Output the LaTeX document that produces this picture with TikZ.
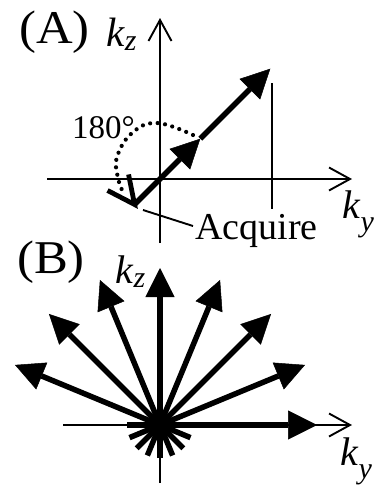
\documentclass[tikz,border=0pt]{standalone}
\usepackage{fontspec}
\setmainfont{Liberation Serif}
\usetikzlibrary{arrows.meta,calc}
\tikzset{
  thinax/.style={line width=1.9pt,-{Straight Barb[length=21pt,width=23pt,line width=1.9pt]}},
  thinline/.style={line width=1.9pt},
  thickarr/.style={line width=5.5pt,-{Triangle[length=29pt,width=29pt,line width=0.5pt]}},
  thickline/.style={line width=4.8pt},
  dotarc/.style={line width=4.2pt,line cap=round,dash pattern=on 0pt off 7.5pt},
  lbl/.style={inner sep=0pt,anchor=base west},
}
\newcommand{\kz}{\textit{k}\raisebox{-4pt}{\fontsize{30}{30}\selectfont\textit{z}}}
\newcommand{\ky}{\textit{k}\raisebox{-13pt}{\fontsize{30}{30}\selectfont\textit{y}}}
\begin{document}
\begin{tikzpicture}[x=1pt,y=-1pt]
\useasboundingbox (0,0) rectangle (377,485);
% ---------- panel A ----------
\coordinate (OA) at (160,179);
\coordinate (Ax0) at (47,179);
\coordinate (Ax1) at (352,179);
\coordinate (Ay0) at (160,243);
\coordinate (Ay1) at (160,18);
\coordinate (V0) at (272,83);
\coordinate (V1) at (272,209);
\draw[thinax] (Ax0) -- (Ax1);
\draw[thinax] (Ay0) -- (Ay1);
\draw[thinline] (V0) -- (V1);
\coordinate (S) at ($(OA)+(135:36)$);
\coordinate (M) at ($(OA)+(-45:57)$);
\coordinate (E) at ($(OA)+(-45:156)$);
\draw[thickarr] (S) -- (M);
\draw[thickarr] (M) -- (E);
% 180 degree dotted turn with its barb
\draw[dotarc] plot[smooth,tension=0.7] coordinates {(193,135) (157,123) (132,133) (117,157) (118,178) (123,192)};
\coordinate (b1) at ($(S)+(-27,-14)$);
\coordinate (b2) at ($(S)+(-6,-30)$);
\draw[thickline,line join=miter] (b1) -- (S) -- (b2);
% labels
\node[lbl,font=\fontsize{47}{47}\selectfont] (labA) at (19,43) {\scalebox{1.08}[1]{(A)}};
\node[lbl,font=\fontsize{41}{41}\selectfont] (kzA) at (106,46) {\kz};
\node[lbl,font=\fontsize{40}{40}\selectfont] (kyA) at (342,218) {\ky};
\node[lbl,font=\fontsize{33}{33}\selectfont] (deg) at (72,138) {180°};
\node[lbl,font=\fontsize{38}{38}\selectfont] (acq) at (195,239) {Acquire};
\coordinate (acq0) at (143,210);
\coordinate (acq1) at (193,226);
\draw[thinline] (acq0) -- (acq1);
% ---------- panel B ----------
\coordinate (OB) at (160,425);
\coordinate (Bx0) at (63,425);
\coordinate (Bx1) at (352,425);
\coordinate (By0) at (160,483);
\draw[thinax] (Bx0) -- (Bx1);
\draw[thinline] (By0) -- (OB);
\foreach \i in {0,...,7}{
  \pgfmathsetmacro{\a}{22.5*\i}
  \coordinate (s\i) at ($(OB)+(180-\a:33)$);
  \coordinate (e\i) at ($(OB)+(-\a:157)$);
  \draw[thickarr] (s\i) -- (e\i);
}
\node[lbl,font=\fontsize{47}{47}\selectfont] (labB) at (17,273) {\scalebox{1.08}[1]{(B)}};
\node[lbl,font=\fontsize{40}{40}\selectfont] (kzB) at (115,283) {\kz};
\node[lbl,font=\fontsize{40}{40}\selectfont] (kyB) at (340,465) {\ky};
\end{tikzpicture}
\end{document}
